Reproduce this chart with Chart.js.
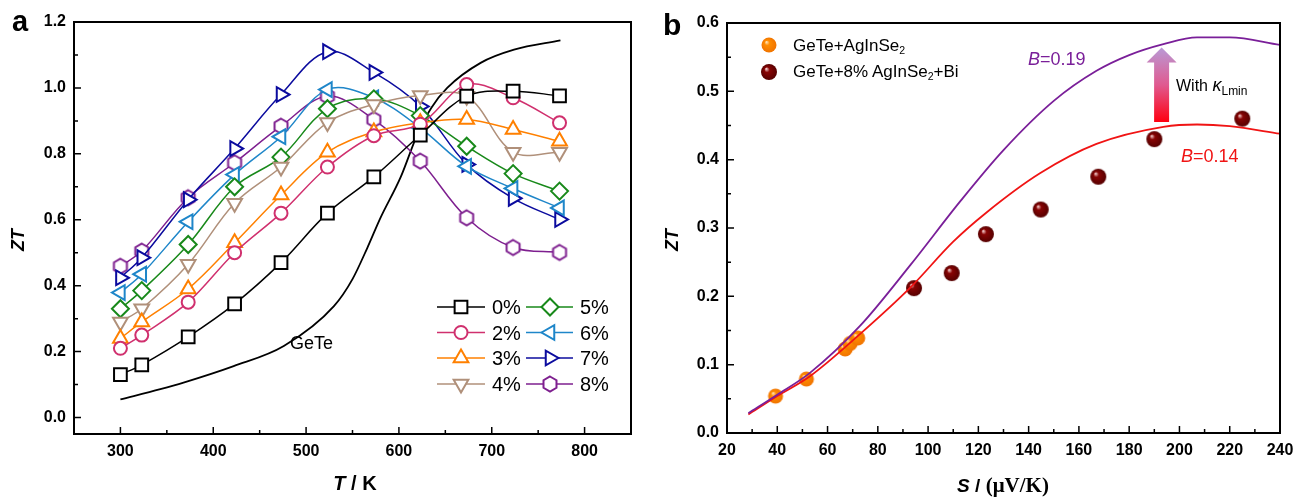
<!DOCTYPE html>
<html>
<head>
<meta charset="utf-8">
<script src="https://cdn.jsdelivr.net/npm/chart.js@4.4.1/dist/chart.umd.min.js"></script>
<style>
body { margin:0; background:#fff; width:1308px; height:499px; overflow:hidden; position:relative; font-family:"Liberation Sans", Arial, sans-serif; }
.pane { position:absolute; top:0; width:654px; height:499px; }
.t { position:absolute; white-space:nowrap; line-height:1; color:#000; }
.b { font-weight:bold; }
.i { font-style:italic; }
sub { font-size:0.62em; vertical-align:-0.25em; line-height:0; }
</style>
</head>
<body>
<div class="pane" style="left:0"><canvas id="cA"></canvas></div>
<div class="pane" style="left:654px"><canvas id="cB"></canvas></div>

<div class="t b" style="left:12px;top:7px;font-size:29px">a</div>
<div class="t b" style="left:663px;top:10px;font-size:30px">b</div>

<div class="t b i" style="left:18px;top:240px;font-size:18px;transform:translate(-50%,-50%) rotate(-90deg)">ZT</div>
<div class="t b" style="left:355px;top:473px;font-size:20px;transform:translateX(-50%)"><span class="i">T</span> / K</div>
<div class="t" style="left:290px;top:334px;font-size:18px">GeTe</div>
<div id="legA"></div>

<div class="t b i" style="left:672px;top:240px;font-size:18px;transform:translate(-50%,-50%) rotate(-90deg)">ZT</div>
<div class="t b" style="left:1003px;top:475px;font-size:19px;transform:translateX(-50%)"><span class="i">S</span> / <span style="font-family:'Liberation Serif',serif;font-size:21px">(&mu;V/K)</span></div>
<div class="t" style="left:793px;top:37px;font-size:17px">GeTe+AgInSe<sub>2</sub></div>
<div class="t" style="left:793px;top:63px;font-size:17px">GeTe+8% AgInSe<sub>2</sub>+Bi</div>
<div class="t" style="left:1028px;top:50px;font-size:18px;color:#7a1f99"><span class="i">B</span>=0.19</div>
<div class="t" style="left:1181px;top:147px;font-size:18px;color:#f01414"><span class="i">B</span>=0.14</div>
<div class="t" style="left:1176px;top:76px;font-size:16px">With <span class="i" style="font-size:18px">&kappa;</span><sub style="font-size:12px;vertical-align:-0.35em">Lmin</sub></div>

<script>
// ---- panel a data (ZT vs T) ----
const temps = [300, 323, 373, 423, 473, 523, 573, 623, 673, 723, 773];
const zt0 = [0.13, 0.16, 0.245, 0.345, 0.47, 0.62, 0.73, 0.857, 0.975, 0.99, 0.976];
const zt2 = [0.21, 0.25, 0.35, 0.50, 0.62, 0.76, 0.855, 0.89, 1.01, 0.97, 0.894];
const zt3 = [0.24, 0.29, 0.39, 0.53, 0.675, 0.805, 0.866, 0.894, 0.904, 0.874, 0.838];
const zt4 = [0.29, 0.33, 0.465, 0.65, 0.76, 0.895, 0.95, 0.977, 0.975, 0.805, 0.805];
const zt5 = [0.33, 0.385, 0.525, 0.70, 0.79, 0.937, 0.967, 0.916, 0.823, 0.74, 0.687];
const zt6 = [0.379, 0.435, 0.594, 0.737, 0.852, 0.995, 0.97, 0.879, 0.762, 0.695, 0.636];
const zt7 = [0.424, 0.485, 0.661, 0.816, 0.98, 1.11, 1.047, 0.944, 0.768, 0.665, 0.601];
const zt8 = [0.459, 0.505, 0.667, 0.773, 0.884, 0.975, 0.904, 0.778, 0.606, 0.516, 0.501];
const seriesLabels = ['0%', '2%', '3%', '4%', '5%', '6%', '7%', '8%'];

// GeTe reference curve
const geteT = [300, 343, 368, 422, 476, 530, 550, 566, 580, 602, 620, 635, 652, 688, 724, 774];
const geteZT = [0.055, 0.086, 0.106, 0.156, 0.217, 0.338, 0.42, 0.515, 0.605, 0.73, 0.86, 0.94, 1.0, 1.076, 1.116, 1.144];

const tempTicks = [300, 400, 500, 600, 700, 800];
const tempMinor = [350, 450, 550, 650, 750];
const ztTicksA = [0, 0.2, 0.4, 0.6, 0.8, 1.0, 1.2];
const ztMinorA = [0.1, 0.3, 0.5, 0.7, 0.9, 1.1];

// ---- panel b data (ZT vs S) ----
const sAg = [39.3, 51.6, 67, 69, 72];
const ztAg = [0.054, 0.079, 0.123, 0.131, 0.139];
const sBi = [94.4, 109.4, 123, 144.8, 167.7, 190, 225];
const ztBi = [0.212, 0.234, 0.291, 0.327, 0.375, 0.43, 0.46];

const sB19 = [28.5, 40, 53, 73, 93, 113, 130, 150, 167, 180, 193.6, 207, 220, 240];
const ztB19 = [0.029, 0.056, 0.088, 0.157, 0.246, 0.34, 0.414, 0.486, 0.53, 0.553, 0.569, 0.579, 0.579, 0.568];
const sB14 = [28.5, 40, 53, 73, 93, 110, 123, 144.5, 167, 193.6, 207, 220, 240];
const ztB14 = [0.027, 0.054, 0.083, 0.145, 0.213, 0.28, 0.322, 0.38, 0.423, 0.448, 0.4515, 0.449, 0.438];

const sTicks = [20, 40, 60, 80, 100, 120, 140, 160, 180, 200, 220, 240];
const sMinor = [30, 50, 70, 90, 110, 130, 150, 170, 190, 210, 230];
const ztTicksB = [0, 0.1, 0.2, 0.3, 0.4, 0.5, 0.6];
const ztMinorB = [0.05, 0.15, 0.25, 0.35, 0.45, 0.55];

// arrow "With kLmin" in data units
const arrowS = 192.9, arrowFrom = 0.455, arrowTo = 0.564;

const FONT = '"Liberation Sans", Arial, sans-serif';
const colors = ['#000000', '#d0306e', '#ff8000', '#b0907a', '#18891a', '#1e86c9', '#0b0b9e', '#7e1f8f'];

function hexImg(color, r) {
    const s = 2 * Math.ceil(r + 2);
    const c = document.createElement('canvas');
    c.width = s; c.height = s;
    const g = c.getContext('2d');
    g.beginPath();
    for (let k = 0; k < 6; k++) {
        const a = Math.PI / 3 * k - Math.PI / 2;
        const px = s / 2 + r * Math.cos(a), py = s / 2 + r * Math.sin(a);
        if (k === 0) g.moveTo(px, py); else g.lineTo(px, py);
    }
    g.closePath();
    g.fillStyle = '#fff'; g.fill();
    g.lineWidth = 2; g.strokeStyle = color; g.stroke();
    return c;
}

function ballImg(hi, base, dark, r) {
    const s = 2 * Math.ceil(r + 1);
    const c = document.createElement('canvas');
    c.width = s; c.height = s;
    const g = c.getContext('2d');
    const grad = g.createRadialGradient(s / 2 - r * 0.35, s / 2 - r * 0.4, r * 0.05, s / 2, s / 2, r);
    grad.addColorStop(0, hi);
    grad.addColorStop(0.3, base);
    grad.addColorStop(1, dark);
    g.fillStyle = grad;
    g.beginPath(); g.arc(s / 2, s / 2, r, 0, 2 * Math.PI); g.fill();
    return c;
}

// marker styles for the 8 series
const markers = [
    { pointStyle: 'rect', rotation: 0, radius: 9 },
    { pointStyle: 'circle', rotation: 0, radius: 6.5 },
    { pointStyle: 'triangle', rotation: 0, radius: 8.5 },
    { pointStyle: 'triangle', rotation: 180, radius: 8.5 },
    { pointStyle: 'rectRot', rotation: 0, radius: 8.5 },
    { pointStyle: 'triangle', rotation: -90, radius: 8.5 },
    { pointStyle: 'triangle', rotation: 90, radius: 8.5 },
    { pointStyle: hexImg(colors[7], 7.5), rotation: 0, radius: 8 }
];

// frame + inward ticks
const frameTicks = {
    id: 'frameTicks',
    afterDraw(chart, args, o) {
        const { ctx, chartArea: a, scales } = chart;
        const x = scales.x, y = scales.y;
        ctx.save();
        ctx.strokeStyle = '#000';
        ctx.lineWidth = 1.5;
        ctx.beginPath();
        o.xMajor.forEach(v => { const p = x.getPixelForValue(v); ctx.moveTo(p, a.bottom); ctx.lineTo(p, a.bottom - 7); });
        o.xMinor.forEach(v => { const p = x.getPixelForValue(v); ctx.moveTo(p, a.bottom); ctx.lineTo(p, a.bottom - 4); });
        o.yMajor.forEach(v => { const p = y.getPixelForValue(v); ctx.moveTo(a.left, p); ctx.lineTo(a.left + 7, p); });
        o.yMinor.forEach(v => { const p = y.getPixelForValue(v); ctx.moveTo(a.left, p); ctx.lineTo(a.left + 4, p); });
        ctx.stroke();
        ctx.lineWidth = 2;
        ctx.strokeRect(a.left, a.top, a.right - a.left, a.bottom - a.top);
        ctx.restore();
    }
};

// legend of panel a (two columns)
const legendA = {
    id: 'legendA',
    afterDraw(chart) {
        const ctx = chart.ctx;
        const rows = [307, 332.5, 358, 384];
        const cols = [{ x0: 437, x1: 485, m: 461 }, { x0: 526, x1: 573, m: 550 }];
        ctx.save();
        for (let k = 0; k < 8; k++) {
            const col = cols[Math.floor(k / 4)], yy = rows[k % 4];
            ctx.strokeStyle = colors[k];
            ctx.lineWidth = 1.5;
            ctx.beginPath(); ctx.moveTo(col.x0, yy); ctx.lineTo(col.x1, yy); ctx.stroke();
            ctx.lineWidth = 2;
            ctx.fillStyle = '#fff';
            Chart.helpers.drawPoint(ctx, { pointStyle: markers[k].pointStyle, rotation: markers[k].rotation, radius: markers[k].radius, borderWidth: 2 }, col.m, yy);
        }
        ctx.restore();
    }
};

// gradient arrow in panel b
const arrowB = {
    id: 'arrowB',
    afterDatasetsDraw(chart) {
        const { ctx, scales } = chart;
        const xc = scales.x.getPixelForValue(arrowS);
        const yb = scales.y.getPixelForValue(arrowFrom);
        const yt = scales.y.getPixelForValue(arrowTo);
        const yh = yt + 15;
        const g = ctx.createLinearGradient(0, yb, 0, yt);
        g.addColorStop(0, '#ff0010');
        g.addColorStop(0.5, '#e05a90');
        g.addColorStop(1, '#b99ad6');
        ctx.save();
        ctx.fillStyle = g;
        ctx.beginPath();
        ctx.moveTo(xc - 7.5, yb);
        ctx.lineTo(xc + 7.5, yb);
        ctx.lineTo(xc + 7.5, yh);
        ctx.lineTo(xc + 15, yh);
        ctx.lineTo(xc, yt);
        ctx.lineTo(xc - 15, yh);
        ctx.lineTo(xc - 7.5, yh);
        ctx.closePath();
        ctx.fill();
        ctx.restore();
    }
};

function axis(min, max, ticks, fmt, fixed) {
    return {
        type: 'linear', min: min, max: max,
        afterBuildTicks: s => { s.ticks = ticks.map(v => ({ value: v })); },
        afterFit: fixed,
        ticks: { color: '#000', padding: 8, font: { family: FONT, size: 16, weight: 'bold' }, callback: fmt },
        grid: { display: false, drawTicks: false },
        border: { display: false }
    };
}

const zts = [zt0, zt2, zt3, zt4, zt5, zt6, zt7, zt8];
const dsA = zts.map((vals, k) => ({
    label: seriesLabels[k],
    data: temps.map((t, i) => ({ x: t, y: vals[i] })),
    borderColor: colors[k],
    borderWidth: 1.5,
    tension: 0.35,
    pointStyle: markers[k].pointStyle,
    pointRotation: markers[k].rotation,
    pointRadius: markers[k].radius,
    pointHoverRadius: markers[k].radius,
    pointBorderWidth: 2,
    pointBorderColor: colors[k],
    pointBackgroundColor: '#fff'
}));
dsA.push({
    label: 'GeTe',
    data: geteT.map((t, i) => ({ x: t, y: geteZT[i] })),
    borderColor: '#000', borderWidth: 1.8, pointRadius: 0, cubicInterpolationMode: 'monotone'
});

new Chart(document.getElementById('cA'), {
    type: 'line',
    data: { datasets: dsA },
    options: {
        responsive: true, maintainAspectRatio: false, animation: false,
        layout: { padding: { left: 0, top: 22, right: 23, bottom: 0 } },
        plugins: {
            legend: { display: false }, tooltip: { enabled: false },
            frameTicks: { xMajor: tempTicks, xMinor: tempMinor, yMajor: ztTicksA, yMinor: ztMinorA }
        },
        scales: {
            x: axis(250, 850, tempTicks, v => v, s => { s.height = 65; }),
            y: axis(-0.05, 1.2, ztTicksA, v => v.toFixed(1), s => { s.width = 74; })
        }
    },
    plugins: [frameTicks, legendA]
});

const ballAg = ballImg('#ffe0b0', '#ff8c00', '#f07400', 7.5);
const ballBi = ballImg('#f0c8c8', '#880404', '#560000', 8);

new Chart(document.getElementById('cB'), {
    type: 'line',
    data: {
        datasets: [
            { label: 'B=0.19', data: sB19.map((s, i) => ({ x: s, y: ztB19[i] })), borderColor: '#7a1f99', borderWidth: 1.8, pointRadius: 0, cubicInterpolationMode: 'monotone' },
            { label: 'B=0.14', data: sB14.map((s, i) => ({ x: s, y: ztB14[i] })), borderColor: '#f01414', borderWidth: 1.8, pointRadius: 0, cubicInterpolationMode: 'monotone' },
            { label: 'GeTe+AgInSe2', data: sAg.map((s, i) => ({ x: s, y: ztAg[i] })), showLine: false, pointStyle: ballAg, pointRadius: 8 },
            { label: 'GeTe+8% AgInSe2+Bi', data: sBi.map((s, i) => ({ x: s, y: ztBi[i] })), showLine: false, pointStyle: ballBi, pointRadius: 8 }
        ]
    },
    options: {
        responsive: true, maintainAspectRatio: false, animation: false,
        layout: { padding: { left: 0, top: 23, right: 28, bottom: 0 } },
        plugins: {
            legend: { display: false }, tooltip: { enabled: false },
            frameTicks: { xMajor: sTicks, xMinor: sMinor, yMajor: ztTicksB, yMinor: ztMinorB }
        },
        scales: {
            x: axis(20, 240, sTicks, v => v, s => { s.height = 66; }),
            y: axis(0, 0.6, ztTicksB, v => v.toFixed(1), s => { s.width = 73; })
        }
    },
    plugins: [frameTicks, arrowB, {
        id: 'legendB',
        afterDraw(chart) {
            const ctx = chart.ctx;
            ctx.drawImage(ballAg, 769 - 654 - ballAg.width / 2, 45 - ballAg.height / 2);
            ctx.drawImage(ballBi, 769 - 654 - ballBi.width / 2, 72 - ballBi.height / 2);
        }
    }]
});

// legend labels of panel a
const legA = document.getElementById('legA');
const rowsTop = [297, 322.5, 348, 374];
seriesLabels.forEach((lab, k) => {
    const d = document.createElement('div');
    d.className = 't';
    d.style.fontSize = '20px';
    d.style.left = (k < 4 ? 492 : 580) + 'px';
    d.style.top = rowsTop[k % 4] + 'px';
    d.textContent = lab;
    legA.appendChild(d);
});
</script>
</body>
</html>
